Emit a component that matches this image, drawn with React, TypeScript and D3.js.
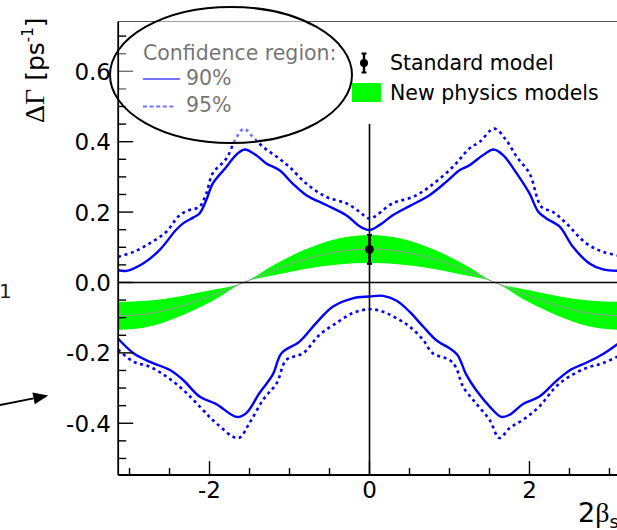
import React from "react";
import * as d3 from "d3";

// ---- data -------------------------------------------------------------
// Confidence contours in the (2βs, ΔΓ) plane: [2βs, ΔΓ in ps^-1]
const upper90: [number, number][] = [
  [-3.1416, 0.035], [-3.04, 0.033], [-2.83, 0.054], [-2.625, 0.092], [-2.42, 0.149],
  [-2.33, 0.168], [-2.2, 0.185], [-2.125, 0.196], [-2.04, 0.234], [-1.96, 0.281],
  [-1.79, 0.328], [-1.67, 0.362], [-1.56, 0.378], [-1.42, 0.362], [-1.29, 0.338],
  [-1.125, 0.319], [-0.96, 0.281], [-0.79, 0.248], [-0.54, 0.22], [-0.29, 0.191],
  [-0.125, 0.16], [0, 0.149], [0.125, 0.163], [0.29, 0.191], [0.5, 0.217],
  [0.75, 0.248], [0.96, 0.286], [1.125, 0.319], [1.25, 0.333], [1.42, 0.362],
  [1.55, 0.378], [1.67, 0.362], [1.84, 0.31], [2.0, 0.253], [2.11, 0.201],
  [2.21, 0.182], [2.38, 0.158], [2.54, 0.102], [2.75, 0.054], [2.92, 0.037],
  [3.1416, 0.033],
];

const upper95: [number, number][] = [
  [-3.1416, 0.073], [-2.95, 0.087], [-2.75, 0.111], [-2.54, 0.144], [-2.375, 0.191],
  [-2.25, 0.206], [-2.125, 0.215], [-2.04, 0.253], [-1.96, 0.31], [-1.79, 0.352],
  [-1.67, 0.409], [-1.57, 0.437], [-1.46, 0.414], [-1.33, 0.385], [-1.16, 0.357],
  [-1.0, 0.328], [-0.79, 0.281], [-0.54, 0.243], [-0.29, 0.225], [-0.125, 0.201],
  [0, 0.182], [0.29, 0.225], [0.54, 0.243], [0.75, 0.272], [1.04, 0.328],
  [1.25, 0.381], [1.375, 0.399], [1.56, 0.437], [1.71, 0.404], [1.84, 0.357],
  [2.0, 0.31], [2.15, 0.215], [2.29, 0.201], [2.46, 0.168], [2.71, 0.111],
  [2.92, 0.087], [3.1416, 0.075],
];

const lower90: [number, number][] = [
  [-3.1416, -0.16], [-2.95, -0.201], [-2.75, -0.225], [-2.5, -0.248], [-2.33, -0.277],
  [-2.125, -0.324], [-1.92, -0.345], [-1.66, -0.382], [-1.54, -0.371], [-1.375, -0.314],
  [-1.21, -0.262], [-1.1, -0.201], [-0.875, -0.168], [-0.67, -0.116], [-0.46, -0.069],
  [-0.21, -0.045], [0, -0.04], [0.17, -0.038], [0.34, -0.052], [0.5, -0.083],
  [0.67, -0.125], [0.84, -0.165], [1.0, -0.187], [1.1, -0.206], [1.21, -0.262],
  [1.33, -0.305], [1.5, -0.352], [1.65, -0.382], [1.75, -0.376], [1.92, -0.345],
  [2.125, -0.324], [2.33, -0.281], [2.5, -0.25], [2.71, -0.228], [2.92, -0.203],
  [3.1416, -0.168],
];

const lower95: [number, number][] = [
  [-3.1416, -0.191], [-2.95, -0.225], [-2.75, -0.239], [-2.54, -0.267], [-2.33, -0.305],
  [-2.125, -0.352], [-1.92, -0.399], [-1.64, -0.442], [-1.5, -0.399], [-1.33, -0.333],
  [-1.16, -0.286], [-1.04, -0.22], [-0.83, -0.201], [-0.625, -0.149], [-0.42, -0.116],
  [-0.21, -0.087], [0, -0.076], [0.17, -0.083], [0.34, -0.102], [0.5, -0.125],
  [0.67, -0.163], [0.79, -0.201], [1.0, -0.22], [1.08, -0.241], [1.17, -0.296],
  [1.33, -0.343], [1.5, -0.39], [1.625, -0.442], [1.75, -0.414], [1.92, -0.39],
  [2.125, -0.352], [2.33, -0.296], [2.5, -0.267], [2.71, -0.243], [2.92, -0.229],
  [3.1416, -0.206],
];

// New-physics band: 2βs grid with upper, lower and central ΔΓ
const bandX = [-3.1416, -2.75, -2.36, -1.96, -1.5708, -1.18, -0.79, -0.39, 0,
  0.39, 0.79, 1.18, 1.5708, 1.96, 2.36, 2.75, 3.1416];
const bandHi = [-0.055, -0.051, -0.039, -0.021, 0, 0.052, 0.095, 0.125, 0.135,
  0.125, 0.095, 0.052, 0, -0.021, -0.039, -0.051, -0.055];
const bandLo = [-0.135, -0.125, -0.095, -0.052, 0, 0.021, 0.039, 0.051, 0.055,
  0.051, 0.039, 0.021, 0, -0.052, -0.095, -0.125, -0.135];
const bandMid = [-0.095, -0.088, -0.067, -0.036, 0, 0.036, 0.067, 0.088, 0.095,
  0.088, 0.067, 0.036, 0, -0.036, -0.067, -0.088, -0.095];

// Standard-model expectation
const smPhase = 0;
const smDeltaGamma = 0.094;
const smError = 0.041;

// Axis ticks
const xMajorTicks = [-2, 0, 2];
const xTickLabels = ["-2", "0", "2"];
const xMinorTicks = [-3, -2.5, -1.5, -1, -0.5, 0.5, 1, 1.5, 2.5, 3];
const yMajorTicks = [-0.4, -0.2, 0, 0.2, 0.4, 0.6];
const yTickLabels = ["-0.4", "-0.2", "0.0", "0.2", "0.4", "0.6"];
const yMinorTicks = [-0.5, -0.45, -0.35, -0.3, -0.25, -0.15, -0.1, -0.05, 0.05, 0.1,
  0.15, 0.25, 0.3, 0.35, 0.45, 0.5, 0.55, 0.65, 0.7];

// ---- layout -------------------------------------------------------------
const W = 617;
const H = 530;
const SANS = "'DejaVu Sans', Verdana, sans-serif";
const SERIF = "'Liberation Serif', 'DejaVu Serif', serif";
const BLUE = "#0000ff";
const GREEN = "#00ff00";

export default function App() {
  const x = d3.scaleLinear().domain([-Math.PI, Math.PI]).range([118.2, 620.8]);
  const y = d3.scaleLinear().domain([-0.547, 0.7415]).range([475, 21.5]);
  const [x0, x1] = [118.2, W];
  const [yTop, yBot] = [21.5, 475];

  const contour = d3
    .line<[number, number]>()
    .x((d) => x(d[0]))
    .y((d) => y(d[1]))
    .curve(d3.curveCatmullRom.alpha(0.5));

  const band = d3
    .area<number>()
    .x((i) => x(bandX[i]))
    .y0((i) => y(bandLo[i]))
    .y1((i) => y(bandHi[i]))
    .curve(d3.curveMonotoneX);
  const bandCentre = d3
    .line<number>()
    .x((i) => x(bandX[i]))
    .y((i) => y(bandMid[i]))
    .curve(d3.curveMonotoneX);
  const idx = bandX.map((_, i) => i);

  // arrow annotation on the left margin
  const aFrom = [0, 405];
  const aTip = [48.3, 395.5];
  const dx = aTip[0] - aFrom[0];
  const dy = aTip[1] - aFrom[1];
  const len = Math.hypot(dx, dy);
  const ux = dx / len;
  const uy = dy / len;
  const head = 15;
  const half = 6;
  const bx = aTip[0] - ux * head;
  const by = aTip[1] - uy * head;
  const arrowHead = `M${aTip[0]},${aTip[1]} L${bx - uy * half},${by + ux * half} L${bx + uy * half},${by - ux * half} Z`;

  const smX = x(smPhase);
  const smY = y(smDeltaGamma);

  return (
    <svg
      width={W}
      height={H}
      viewBox={`0 0 ${W} ${H}`}
      style={{ position: "absolute", left: 0, top: 0, background: "#fff" }}
    >
      <rect x={0} y={0} width={W} height={H} fill="#fff" />

      {/* new physics band */}
      <path d={band(idx) || ""} fill={GREEN} />
      <path d={bandCentre(idx) || ""} fill="none" stroke="#9a9a9a" strokeWidth={1} />

      {/* confidence contours */}
      <path d={contour(upper95) || ""} fill="none" stroke={BLUE} strokeWidth={2.6} strokeDasharray="3 3.6" />
      <path d={contour(lower95) || ""} fill="none" stroke={BLUE} strokeWidth={2.6} strokeDasharray="3 3.6" />
      <path d={contour(upper90) || ""} fill="none" stroke={BLUE} strokeWidth={2.4} />
      <path d={contour(lower90) || ""} fill="none" stroke={BLUE} strokeWidth={2.4} />

      {/* zero lines */}
      <line x1={x0} x2={x1} y1={y(0)} y2={y(0)} stroke="#000" strokeWidth={1.6} />
      <line x1={x(0)} x2={x(0)} y1={y(0.45)} y2={yBot} stroke="#000" strokeWidth={1.6} />

      {/* standard model point */}
      <line x1={smX} x2={smX} y1={y(smDeltaGamma + smError)} y2={y(smDeltaGamma - smError)} stroke="#000" strokeWidth={2.6} />
      <line x1={smX - 2.5} x2={smX + 2.5} y1={y(smDeltaGamma + smError)} y2={y(smDeltaGamma + smError)} stroke="#000" strokeWidth={2} />
      <line x1={smX - 2.5} x2={smX + 2.5} y1={y(smDeltaGamma - smError)} y2={y(smDeltaGamma - smError)} stroke="#000" strokeWidth={2} />
      <circle cx={smX} cy={smY} r={4.3} fill="#000" />

      {/* ticks */}
      <g stroke="#000" strokeWidth={1.4}>
        {yMajorTicks.map((v) => (
          <line key={`ym${v}`} x1={x0} x2={x0 + 15} y1={y(v)} y2={y(v)} />
        ))}
        {yMinorTicks.map((v) => (
          <line key={`yn${v}`} x1={x0} x2={x0 + 8} y1={y(v)} y2={y(v)} />
        ))}
        {xMajorTicks.map((v) => (
          <line key={`xm${v}`} x1={x(v)} x2={x(v)} y1={yBot} y2={yBot - 14} />
        ))}
        {xMinorTicks.map((v) => (
          <line key={`xn${v}`} x1={x(v)} x2={x(v)} y1={yBot} y2={yBot - 7} />
        ))}
      </g>

      {/* frame top */}
      <line x1={x0} x2={x1} y1={yTop} y2={yTop} stroke="#555" strokeWidth={1} />

      {/* legend: confidence regions */}
      <text x={143} y={59.5} fontFamily={SANS} fontSize={20.5} fill="#000">Confidence region:</text>
      <line x1={143} x2={180} y1={79} y2={79} stroke={BLUE} strokeWidth={2.2} />
      <text x={186} y={85} fontFamily={SANS} fontSize={20.5} fill="#000">90%</text>
      <line x1={143} x2={176} y1={106.5} y2={106.5} stroke={BLUE} strokeWidth={2.2} strokeDasharray="4 2.6" />
      <text x={186} y={111.5} fontFamily={SANS} fontSize={20.5} fill="#000">95%</text>

      <ellipse cx={231} cy={75} rx={121} ry={68} fill="#fff" fillOpacity={0.45} stroke="#000" strokeWidth={2} />

      {/* legend: models */}
      <line x1={364} x2={364} y1={53.5} y2={72.5} stroke="#000" strokeWidth={2.4} />
      <line x1={361.5} x2={366.5} y1={53.5} y2={53.5} stroke="#000" strokeWidth={2} />
      <line x1={361.5} x2={366.5} y1={72.5} y2={72.5} stroke="#000" strokeWidth={2} />
      <circle cx={364} cy={63} r={4} fill="#000" />
      <text x={390} y={69.5} fontFamily={SANS} fontSize={20.5} fill="#000">Standard model</text>
      <rect x={352} y={83} width={29} height={19} fill={GREEN} />
      <text x={390} y={100} fontFamily={SANS} fontSize={20.5} fill="#000">New physics models</text>

      {/* axis lines */}
      <line x1={x0} x2={x0} y1={yTop} y2={yBot} stroke="#000" strokeWidth={1.8} />
      <line x1={x0} x2={x1} y1={yBot} y2={yBot} stroke="#000" strokeWidth={1.8} />

      {/* tick labels */}
      {yMajorTicks.map((v, i) => (
        <text key={`yl${v}`} x={111} y={y(v) + 8.5} textAnchor="end" fontFamily={SANS} fontSize={23} fill="#000">
          {yTickLabels[i]}
        </text>
      ))}
      {xMajorTicks.map((v, i) => (
        <text key={`xl${v}`} x={x(v)} y={498} textAnchor="middle" fontFamily={SANS} fontSize={23} fill="#000">
          {xTickLabels[i]}
        </text>
      ))}

      {/* axis titles */}
      <text transform="translate(44,123) rotate(-90)" fill="#000">
        <tspan fontFamily={SERIF} fontSize={28}>ΔΓ</tspan>
        <tspan fontFamily={SANS} fontSize={25}> [ps</tspan>
        <tspan fontFamily={SANS} fontSize={15} dy={-11}>-1</tspan>
        <tspan fontFamily={SANS} fontSize={25} dy={11}>]</tspan>
      </text>
      <text x={578} y={521.5} fill="#000">
        <tspan fontFamily={SANS} fontSize={27}>2</tspan>
        <tspan fontFamily={SERIF} fontSize={28}>β</tspan>
        <tspan fontFamily={SANS} fontSize={18} dy={6}>s</tspan>
      </text>

      {/* margin annotations */}
      <text x={-1} y={298} fontFamily={SANS} fontSize={20} fill="#222">1</text>
      <line x1={aFrom[0]} y1={aFrom[1]} x2={bx} y2={by} stroke="#000" strokeWidth={1.8} />
      <path d={arrowHead} fill="#000" />
    </svg>
  );
}
